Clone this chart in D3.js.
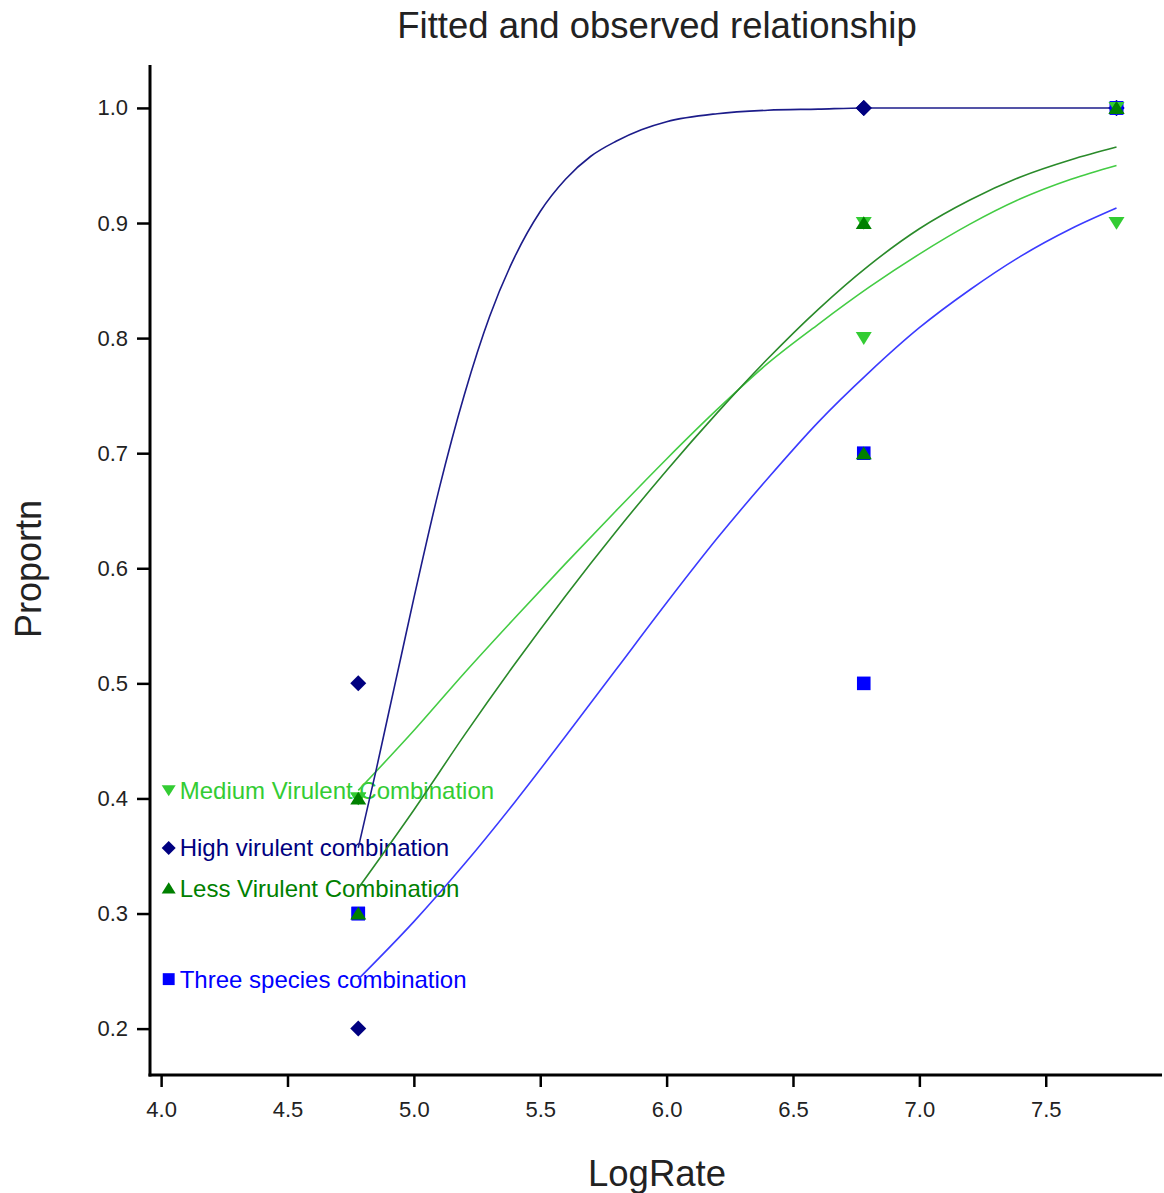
<!DOCTYPE html>
<html>
<head>
<meta charset="utf-8">
<script src="https://cdn.jsdelivr.net/npm/d3@7"></script>
<style>
	body { margin: 0; background: #fff; }
	svg { display: block; font-family: "Liberation Sans", Arial, sans-serif; }
	.tick text { fill: #222; }
</style>
</head>
<body>
<svg id="chart" width="1164" height="1193"></svg>
<script>
// observed proportions, two replicates per rate
var obsRate = [4.78, 4.78, 6.78, 6.78, 7.78, 7.78];
var highObs = [0.5, 0.2, 1.0, 1.0, 1.0, 1.0];
var threeObs = [0.3, 0.3, 0.7, 0.5, 1.0, 1.0];
var mediumObs = [0.4, 0.4, 0.9, 0.8, 0.9, 1.0];
var lessObs = [0.4, 0.3, 0.9, 0.7, 1.0, 1.0];

// fitted curves
var fitRate = [4.78, 5.0, 5.2, 5.4, 5.6, 5.8, 6.0, 6.2, 6.4, 6.6, 6.8, 7.0, 7.2, 7.4, 7.6, 7.78];
var mediumFit = [0.407, 0.459, 0.509, 0.557, 0.604, 0.650, 0.695, 0.738, 0.778, 0.812, 0.844, 0.873, 0.899, 0.921, 0.938, 0.950];
var lessFit = [0.322, 0.390, 0.455, 0.517, 0.576, 0.632, 0.685, 0.735, 0.782, 0.825, 0.863, 0.895, 0.920, 0.940, 0.955, 0.966];
var threeFit = [0.243, 0.293, 0.343, 0.397, 0.454, 0.512, 0.570, 0.626, 0.678, 0.727, 0.770, 0.809, 0.842, 0.871, 0.895, 0.913];
var highFitRate = [4.78, 4.85, 4.9, 4.95, 5.0, 5.1, 5.2, 5.3, 5.4, 5.5, 5.6, 5.7, 5.8, 5.9, 6.0, 6.2, 6.4, 6.6, 6.78, 7.0, 7.4, 7.78];
var highFit = [0.357, 0.424, 0.474, 0.524, 0.574, 0.669, 0.751, 0.819, 0.871, 0.910, 0.938, 0.958, 0.971, 0.981, 0.988, 0.995, 0.998, 0.999, 1.0, 1.0, 1.0, 1.0];

var xTicks = [4.0, 4.5, 5.0, 5.5, 6.0, 6.5, 7.0, 7.5];
var yTicks = [0.2, 0.3, 0.4, 0.5, 0.6, 0.7, 0.8, 0.9, 1.0];
var legendRate = 4.03;

var groups = [
	{ name: "Medium Virulent Combination", obs: mediumObs, fitX: fitRate, fit: mediumFit, shape: "down", color: "#33cc33", line: "#44cc44" },
	{ name: "High virulent combination", obs: highObs, fitX: highFitRate, fit: highFit, shape: "diamond", color: "#000080", line: "#1c1c8a" },
	{ name: "Less Virulent Combination", obs: lessObs, fitX: fitRate, fit: lessFit, shape: "up", color: "#008000", line: "#2a8a2a" },
	{ name: "Three species combination", obs: threeObs, fitX: fitRate, fit: threeFit, shape: "square", color: "#0000ff", line: "#3b3bff" }
];
// drawing order of the markers
var markerOrder = [1, 3, 0, 2];

var svg = d3.select("#chart");

var x = d3.scaleLinear().domain([3.956, 7.96]).range([150, 1162]);
var y = d3.scaleLinear().domain([0.1597, 1.0373]).range([1075, 65]);

var shapePath = function(shape, s) {
	if (shape === "diamond") {
		return "M0," + (-s) + "L" + s + ",0L0," + s + "L" + (-s) + ",0Z";
	}
	if (shape === "square") {
		var h = s * 0.85;
		return "M" + (-h) + "," + (-h) + "H" + h + "V" + h + "H" + (-h) + "Z";
	}
	if (shape === "up") {
		return "M0," + (-s * 0.85) + "L" + s + "," + (s * 0.75) + "L" + (-s) + "," + (s * 0.75) + "Z";
	}
	return "M0," + (s * 0.85) + "L" + s + "," + (-s * 0.75) + "L" + (-s) + "," + (-s * 0.75) + "Z";
};

// title and axis titles
svg.append("text")
	.attr("x", 657).attr("y", 38)
	.attr("text-anchor", "middle")
	.attr("font-size", 36.5)
	.attr("fill", "#222")
	.text("Fitted and observed relationship");

svg.append("text")
	.attr("x", 657).attr("y", 1186)
	.attr("text-anchor", "middle")
	.attr("font-size", 36.5)
	.attr("fill", "#222")
	.text("LogRate");

svg.append("text")
	.attr("transform", "translate(41,569) rotate(-90)")
	.attr("text-anchor", "middle")
	.attr("font-size", 36)
	.attr("fill", "#222")
	.text("Proportn");

// axes
var xAxis = d3.axisBottom(x).tickValues(xTicks).tickSize(12).tickPadding(14).tickFormat(d3.format(".1f"));
var yAxis = d3.axisLeft(y).tickValues(yTicks).tickSize(13).tickPadding(9).tickFormat(d3.format(".1f"));

var gx = svg.append("g").attr("transform", "translate(0,1075)").call(xAxis);
var gy = svg.append("g").attr("transform", "translate(150,0)").call(yAxis);

[gx, gy].forEach(function(g) {
	g.select(".domain").remove();
	g.selectAll(".tick line").attr("stroke", "#000").attr("stroke-width", 2.5);
	g.selectAll(".tick text").attr("font-size", 22).attr("font-family", "Liberation Sans, Arial, sans-serif");
});

svg.append("line")
	.attr("x1", 150).attr("x2", 150)
	.attr("y1", y.range()[1]).attr("y2", 1076.5)
	.attr("stroke", "#000").attr("stroke-width", 3);
svg.append("line")
	.attr("x1", 148.5).attr("x2", x.range()[1])
	.attr("y1", 1075).attr("y2", 1075)
	.attr("stroke", "#000").attr("stroke-width", 3);

// legend labels sit at the start of each fitted curve
var legend = svg.append("g").attr("class", "legend");
groups.forEach(function(g) {
	var ly = y(g.fit[0]);
	legend.append("path")
		.attr("d", shapePath(g.shape, 7))
		.attr("transform", "translate(" + [x(legendRate), ly] + ")")
		.attr("fill", g.color);
	legend.append("text")
		.attr("x", x(legendRate) + 11)
		.attr("y", ly + 8.5)
		.attr("font-size", 24)
		.attr("fill", g.color)
		.text(g.name);
});

// fitted curves
var line = d3.line()
	.x(function(d) { return x(d[0]); })
	.y(function(d) { return y(d[1]); })
	.curve(d3.curveMonotoneX);

groups.forEach(function(g) {
	svg.append("path")
		.datum(d3.zip(g.fitX, g.fit))
		.attr("d", line)
		.attr("fill", "none")
		.attr("stroke", g.line)
		.attr("stroke-width", 1.6);
});

// observed points
markerOrder.forEach(function(i) {
	var g = groups[i];
	svg.append("g").selectAll("path")
		.data(d3.zip(obsRate, g.obs))
		.enter().append("path")
		.attr("d", shapePath(g.shape, 8))
		.attr("transform", function(d) { return "translate(" + [x(d[0]), y(d[1])] + ")"; })
		.attr("fill", g.color);
});
</script>
</body>
</html>
